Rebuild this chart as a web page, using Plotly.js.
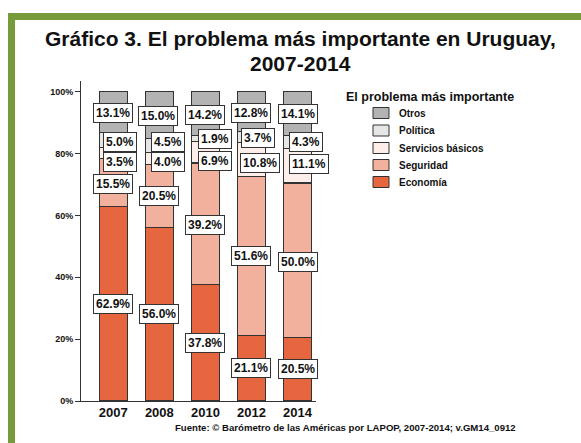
<!DOCTYPE html>
<html>
<head>
<meta charset="utf-8">
<script src="https://cdn.plot.ly/plotly-3.0.1.min.js"></script>
<style>html,body{margin:0;padding:0;background:#fff;}#chart{width:581px;height:443px;}</style>
</head>
<body>
<div id="chart"></div>
<script>
// ---- data ----
const years = ['2007', '2008', '2010', '2012', '2014'];
const economia = [62.9, 56.0, 37.8, 21.1, 20.5];
const seguridad = [15.5, 20.5, 39.2, 51.6, 50.0];
const servicios = [3.5, 4.0, 6.9, 10.8, 11.1];
const politica = [5.0, 4.5, 1.9, 3.7, 4.3];
const otros = [13.1, 15.0, 14.2, 12.8, 14.1];
const seriesNames = ['Economía', 'Seguridad', 'Servicios básicos', 'Política', 'Otros'];
const yTickVals = [0, 20, 40, 60, 80, 100];
const yTickText = ['0%', '20%', '40%', '60%', '80%', '100%'];

// ---- styles ----
const series = [economia, seguridad, servicios, politica, otros];
const colors = ['#E5663F', '#F2B19C', '#FDEEE9', '#E6E6E6', '#B3B3B3'];
// label offsets in px [xshift, yshift] per series per year
const offsets = [
  [[0,0],[0,0],[0,0],[0,0],[0,0]],
  [[0,-1],[0,0],[0,-1],[0,0],[0,-2]],
  [[7,-9],[9,-4],[10,-9],[9,-3],[11,2]],
  [[7,-2],[9,3],[10,0],[7,-1],[8,0]],
  [[0,-1],[-1,-1],[0,-1],[0,-1],[0,0]]
];
const FONT = 'Arial, "Liberation Sans", sans-serif';
const L = 81, PW = 235, T = 81, PH = 320;   // plot area in px
const px2x = p => (p - L) / PW;
const py2y = p => (T + PH - p) / PH;

const traces = series.map((vals, i) => ({
  type: 'bar',
  name: seriesNames[i],
  x: years,
  y: vals,
  marker: {color: colors[i], line: {color: '#333333', width: 1.2}},
  hoverinfo: 'skip',
  showlegend: false
}));

const annotations = [];
years.forEach((yr, j) => {
  let base = 0;
  series.forEach((vals, i) => {
    const v = vals[j];
    annotations.push({
      x: j, y: base + v / 2, xref: 'x', yref: 'y',
      text: '<b>' + v.toFixed(1) + '%</b>',
      showarrow: false,
      font: {family: FONT, size: 12, color: '#111'},
      bgcolor: '#ffffff', bordercolor: '#333333', borderwidth: 1, borderpad: 2,
      xshift: offsets[i][j][0], yshift: offsets[i][j][1]
    });
    base += v;
  });
});

// title (two lines)
annotations.push({
  xref: 'paper', yref: 'paper', x: px2x(300), y: py2y(39), xanchor: 'center', yanchor: 'middle',
  text: '<b>Gráfico 3. El problema más importante en Uruguay,</b>', showarrow: false,
  font: {family: FONT, size: 21, color: '#111'}
});
annotations.push({
  xref: 'paper', yref: 'paper', x: px2x(300), y: py2y(64), xanchor: 'center', yanchor: 'middle',
  text: '<b>2007-2014</b>', showarrow: false,
  font: {family: FONT, size: 21, color: '#111'}
});

// legend (manual)
const shapes = [];
annotations.push({
  xref: 'paper', yref: 'paper', x: px2x(344), y: py2y(97), xanchor: 'left', yanchor: 'middle',
  text: '<b>El problema más importante</b>', showarrow: false,
  font: {family: FONT, size: 12.5, color: '#111'}
});
const legendRows = [113, 130.5, 148, 165, 182];
for (let k = 0; k < 5; k++) {
  const i = 4 - k;
  const cy = legendRows[k];
  shapes.push({type: 'rect', xref: 'paper', yref: 'paper',
    x0: px2x(373), x1: px2x(389), y0: py2y(cy + 5.5), y1: py2y(cy - 5.5),
    fillcolor: colors[i], line: {color: '#333333', width: 1}});
  annotations.push({
    xref: 'paper', yref: 'paper', x: px2x(397), y: py2y(cy), xanchor: 'left', yanchor: 'middle',
    text: '<b>' + seriesNames[i] + '</b>', showarrow: false,
    font: {family: FONT, size: 10, color: '#111'}
  });
}

// source
annotations.push({
  xref: 'paper', yref: 'paper', x: px2x(345), y: py2y(427), xanchor: 'center', yanchor: 'middle',
  text: '<b>Fuente: © Barómetro de las Américas por LAPOP, 2007-2014; v.GM14_0912</b>', showarrow: false,
  font: {family: FONT, size: 9.6, color: '#111'}
});

// green frame (top and left)
const green = '#779A3B';
shapes.push({type: 'rect', xref: 'paper', yref: 'paper', x0: px2x(8), x1: px2x(15), y0: py2y(443), y1: py2y(13),
  fillcolor: green, line: {width: 0}});
shapes.push({type: 'rect', xref: 'paper', yref: 'paper', x0: px2x(8), x1: px2x(581), y0: py2y(20), y1: py2y(13),
  fillcolor: green, line: {width: 0}});

const layout = {
  width: 581, height: 443,
  margin: {l: L, r: 581 - L - PW, t: T, b: 443 - T - PH},
  paper_bgcolor: '#ffffff', plot_bgcolor: '#ffffff',
  font: {family: FONT, color: '#111'},
  barmode: 'stack',
  bargap: 0.39,
  showlegend: false,
  xaxis: {
    type: 'category', range: [-0.7, 4.4],
    showline: true, linecolor: '#333', linewidth: 1,
    ticks: '', showgrid: false, zeroline: false, ticklabelstandoff: -1,
    tickfont: {family: FONT, size: 13, color: '#111', weight: 'bold'},
    fixedrange: true
  },
  yaxis: {
    range: [0, 103.5], tickmode: 'array', tickvals: yTickVals, ticktext: yTickText,
    showline: true, linecolor: '#333', linewidth: 1,
    ticks: 'outside', ticklen: 5, tickcolor: '#333',
    showgrid: false, zeroline: false,
    tickfont: {family: FONT, size: 9, color: '#111', weight: 'bold'},
    fixedrange: true
  },
  shapes: shapes,
  annotations: annotations
};

Plotly.newPlot('chart', traces, layout, {displayModeBar: false, staticPlot: true});
</script>
</body>
</html>
